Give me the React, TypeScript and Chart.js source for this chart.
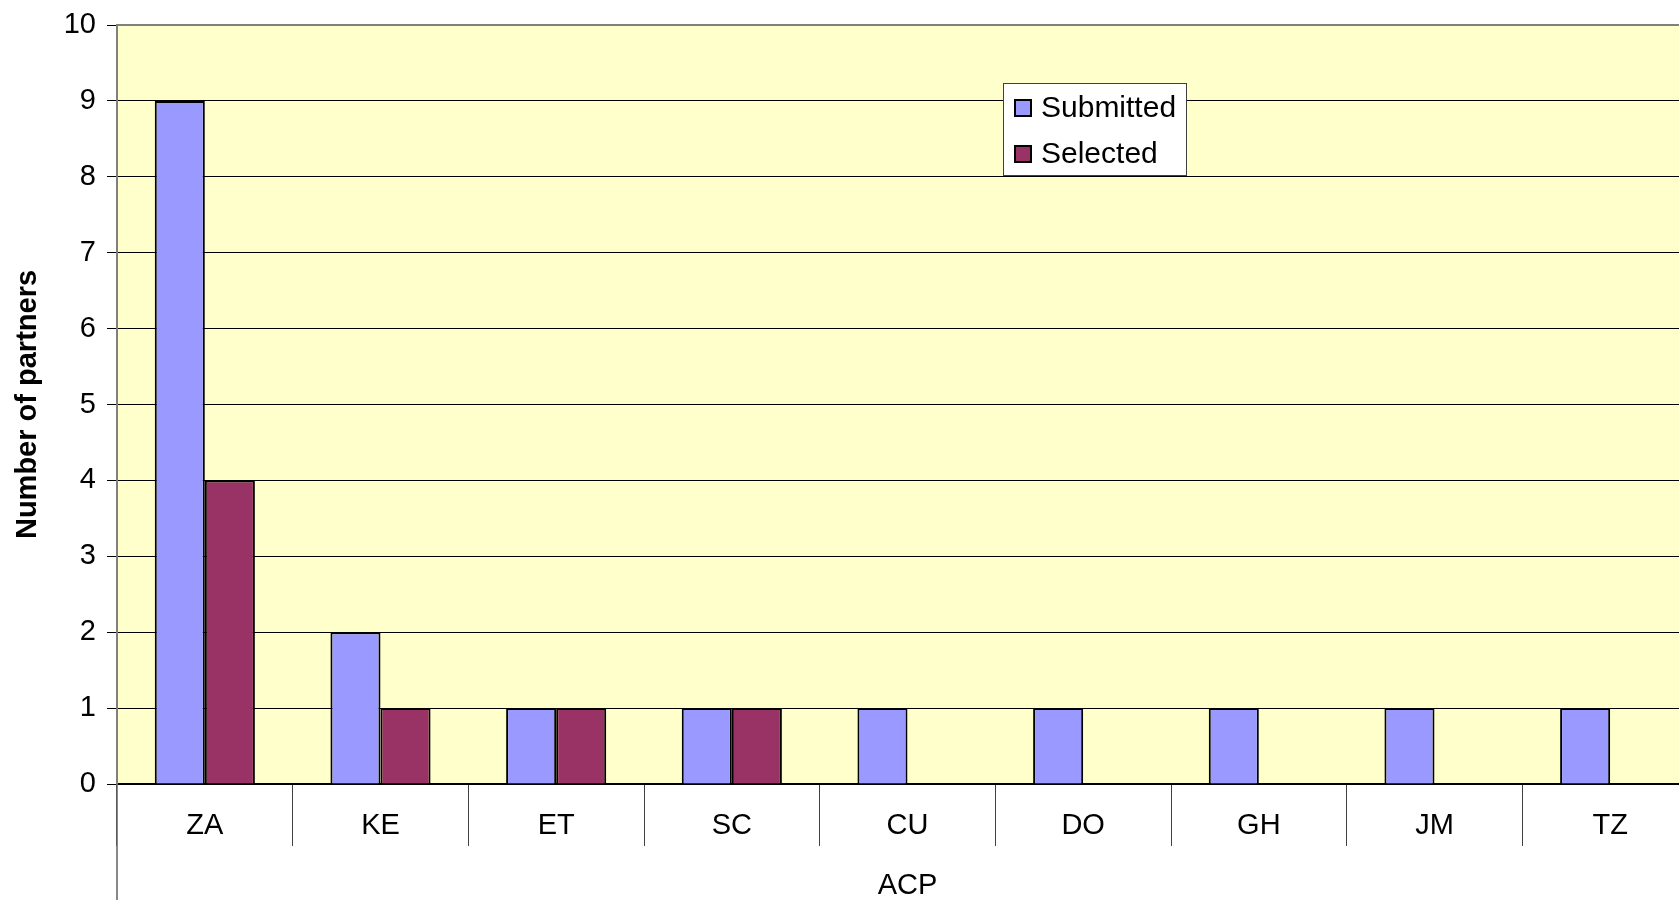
import React, { useEffect, useRef } from "react";
import { Chart, registerables } from "chart.js";

Chart.register(...registerables);

const categories = ["ZA", "KE", "ET", "SC", "CU", "DO", "GH", "JM", "TZ"];
const submitted = [9, 2, 1, 1, 1, 1, 1, 1, 1];
const selected: (number | null)[] = [4, 1, 1, 1, null, null, null, null, null];
const seriesNames = ["Submitted", "Selected"];
const seriesColors = ["#9999FF", "#993366"];
const yMin = 0;
const yMax = 10;
const yStep = 1;
const yTitle = "Number of partners";
const xGroupLabel = "ACP";

const FONT = "'Liberation Sans', Arial, sans-serif";

const decorPlugin = {
  id: "decor",
  beforeDraw(chart: any) {
    const { ctx, chartArea } = chart;
    ctx.save();
    ctx.fillStyle = "#FFFFFF";
    ctx.fillRect(0, 0, chart.width, chart.height);
    ctx.fillStyle = "#FFFFCC";
    ctx.fillRect(chartArea.left, chartArea.top, chartArea.right - chartArea.left, chartArea.bottom - chartArea.top);
    ctx.restore();
  },
  afterDraw(chart: any) {
    const { ctx, chartArea } = chart;
    const { left, right, top, bottom } = chartArea;
    ctx.save();
    // top border of plot area
    ctx.strokeStyle = "#808080";
    ctx.lineWidth = 2;
    ctx.beginPath();
    ctx.moveTo(left - 1, top);
    ctx.lineTo(right, top);
    ctx.stroke();
    // left line extension below the axis (group label bracket)
    ctx.strokeStyle = "#606060";
    ctx.lineWidth = 1.5;
    ctx.beginPath();
    ctx.moveTo(left, bottom);
    ctx.lineTo(left, chart.height);
    ctx.stroke();
    // legend box
    const bx = 1003.5, by = 83.5, bw = 183, bh = 92;
    ctx.fillStyle = "#FFFFFF";
    ctx.fillRect(bx, by, bw, bh);
    ctx.strokeStyle = "#404040";
    ctx.lineWidth = 1;
    ctx.strokeRect(bx, by, bw, bh);
    chart.data.datasets.forEach((ds: any, i: number) => {
      const cy = 108 + i * 46;
      ctx.fillStyle = ds.backgroundColor;
      ctx.fillRect(1015, cy - 8, 16, 16);
      ctx.strokeStyle = "#000000";
      ctx.lineWidth = 2;
      ctx.strokeRect(1015, cy - 8, 16, 16);
      ctx.fillStyle = "#000000";
      ctx.font = "30px " + FONT;
      ctx.textBaseline = "middle";
      ctx.textAlign = "left";
      ctx.fillText(ds.label, 1041, cy + 1);
    });
    ctx.restore();
  },
};

export default function App() {
  const canvasRef = useRef<HTMLCanvasElement | null>(null);

  useEffect(() => {
    const canvas = canvasRef.current;
    if (!canvas) return;
    const chart = new Chart(canvas, {
      type: "bar",
      data: {
        labels: categories,
        datasets: [
          {
            label: seriesNames[0],
            data: submitted,
            backgroundColor: seriesColors[0],
            borderColor: "#000000",
            borderWidth: 2,
            categoryPercentage: 0.57,
            barPercentage: 1.0,
          },
          {
            label: seriesNames[1],
            data: selected,
            backgroundColor: seriesColors[1],
            borderColor: "#000000",
            borderWidth: 2,
            categoryPercentage: 0.57,
            barPercentage: 1.0,
          },
        ],
      },
      options: {
        responsive: false,
        animation: false,
        devicePixelRatio: 1,
        layout: { padding: { top: 25, right: 2, bottom: 0, left: 0 } },
        plugins: {
          legend: { display: false },
          tooltip: { enabled: false },
        },
        scales: {
          x: {
            z: 1,
            offset: true,
            grid: {
              offset: true,
              drawOnChartArea: false,
              drawTicks: true,
              tickLength: 62,
              color: "#404040",
              lineWidth: 1,
            },
            border: { display: true, color: "#000000", width: 2 },
            ticks: {
              color: "#000000",
              font: { family: FONT, size: 29 },
              padding: -37,
              maxRotation: 0,
              autoSkip: false,
            },
            title: {
              display: true,
              text: xGroupLabel,
              color: "#000000",
              font: { family: FONT, size: 29 },
              padding: { top: 0, bottom: -3 },
            },
            afterFit(scale: any) {
              scale.height = 116;
              scale.paddingLeft = 0;
              scale.paddingRight = 0;
            },
          },
          y: {
            min: yMin,
            max: yMax,
            grid: {
              color: "#000000",
              lineWidth: 1,
              drawTicks: true,
              tickLength: 10,
            },
            border: { display: true, color: "#808080", width: 2 },
            ticks: {
              stepSize: yStep,
              color: "#000000",
              font: { family: FONT, size: 29 },
              padding: 11,
            },
            title: {
              display: true,
              text: yTitle,
              color: "#000000",
              font: { family: FONT, size: 29, weight: "bold" },
              padding: { top: 11, bottom: 0 },
            },
            afterFit(scale: any) {
              scale.width = 117;
              scale.paddingTop = 0;
              scale.paddingBottom = 0;
            },
          },
        },
      },
      plugins: [decorPlugin],
    });
    return () => chart.destroy();
  }, []);

  return (
    <div
      style={{
        position: "fixed",
        left: 0,
        top: 0,
        width: "100vw",
        height: "100vh",
        overflow: "hidden",
        background: "#FFFFFF",
      }}
    >
      <canvas ref={canvasRef} width={1700} height={900} style={{ display: "block", width: 1700, height: 900 }} />
    </div>
  );
}
